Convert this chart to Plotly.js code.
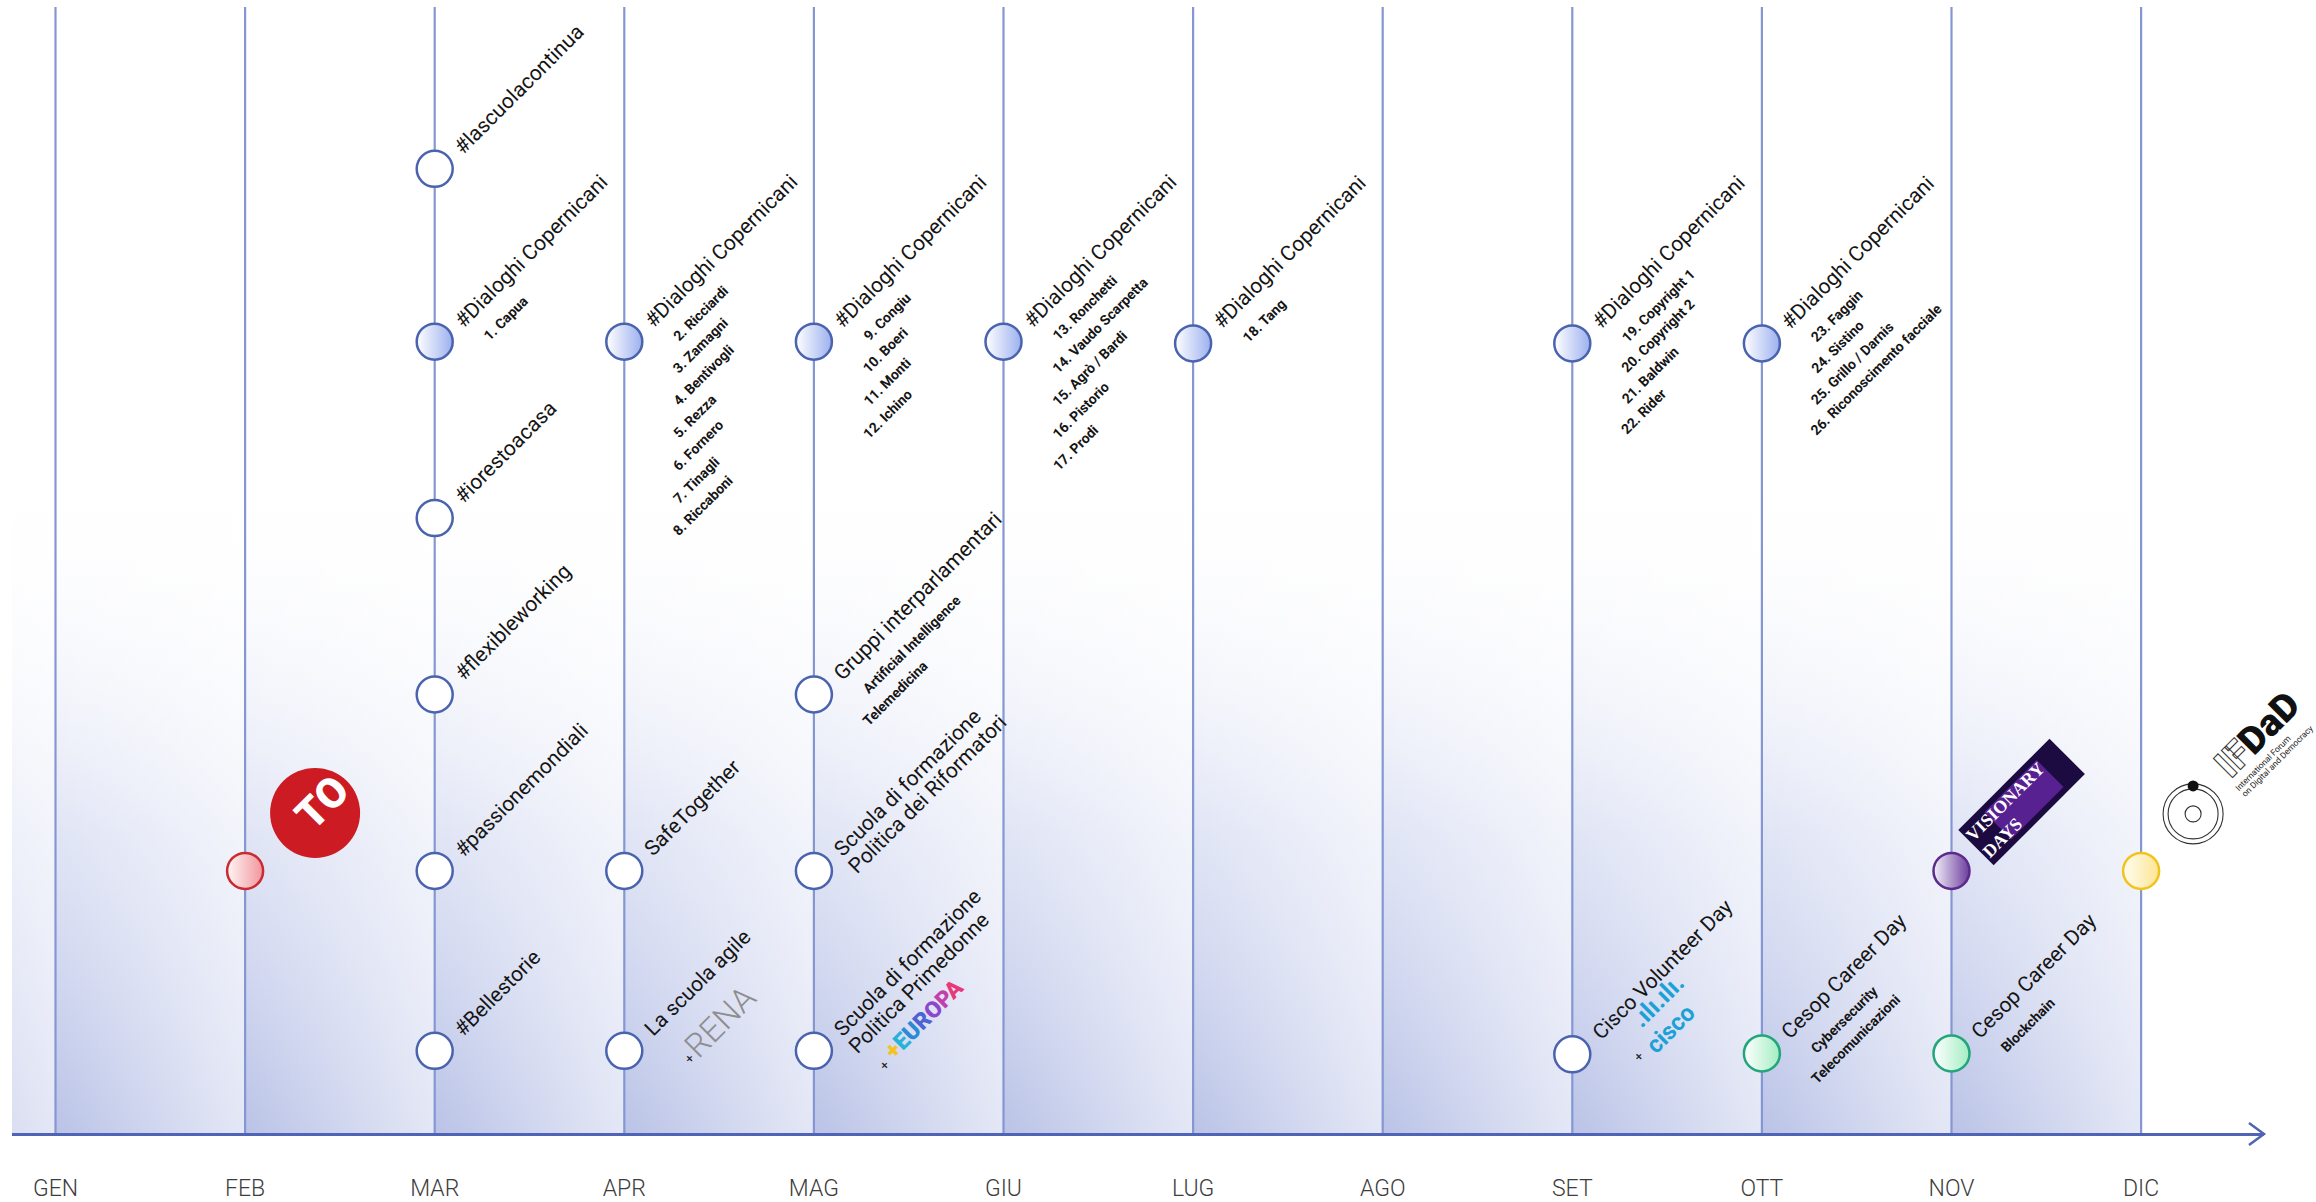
<!DOCTYPE html>
<html><head><meta charset="utf-8">
<script src="https://cdn.plot.ly/plotly-3.0.1.min.js"></script>
<style>html,body{margin:0;padding:0;background:#fff;} #chart{width:2316px;height:1202px;}</style>
</head><body><div id="chart"></div>
<script>
// ---------------- DATA ----------------
const months = ['GEN','FEB','MAR','APR','MAG','GIU','LUG','AGO','SET','OTT','NOV','DIC'];

// one entry per event (circle): month index, row level, title, sub items, kind, partner
const eventMonth = [1, 2, 2, 2, 2, 2, 2, 3, 3, 3, 4, 4, 4, 4, 5, 6, 8, 8, 9, 9, 10, 10, 11];
const eventLevel = [2, 5.98, 5, 4, 3, 2, 0.98, 5, 2, 0.98, 5, 3, 2, 0.98, 5, 4.99, 4.99, 0.96, 4.99, 0.965, 2, 0.965, 2];
const eventTitle = ['', '#lascuolacontinua', '#Dialoghi Copernicani', '#iorestoacasa', '#flexibleworking',
  '#passionemondiali', '#Bellestorie', '#Dialoghi Copernicani', 'SafeTogether', 'La scuola agile',
  '#Dialoghi Copernicani', 'Gruppi interparlamentari', 'Scuola di formazione<br>Politica dei Riformatori',
  'Scuola di formazione<br>Politica Primedonne', '#Dialoghi Copernicani', '#Dialoghi Copernicani',
  '#Dialoghi Copernicani', 'Cisco Volunteer Day', '#Dialoghi Copernicani', 'Cesop Career Day', '',
  'Cesop Career Day', ''];
const eventItems = [[], [], ['1. Capua'], [], [], [], [],
  ['2. Ricciardi', '3. Zamagni', '4. Bentivogli', '5. Rezza', '6. Fornero', '7. Tinagli', '8. Riccaboni'],
  [], [], ['9. Congiu', '10. Boeri', '11. Monti', '12. Ichino'],
  ['Artificial Intelligence', 'Telemedicina'], [], [],
  ['13. Ronchetti', '14. Vaudo Scarpetta', '15. Agrò / Bardi', '16. Pistorio', '17. Prodi'],
  ['18. Tang'], ['19. Copyright 1', '20. Copyright 2', '21. Baldwin', '22. Rider'], [],
  ['23. Faggin', '24. Sistino', '25. Grillo / Darnis', '26. Riconoscimento facciale'],
  ['Cybersecurity', 'Telecomunicazioni'], [], ['Blockchain'], []];
const eventKind = ['red', 'plain', 'dialoghi', 'plain', 'plain', 'plain', 'plain', 'dialoghi', 'plain', 'plain',
  'dialoghi', 'plain', 'plain', 'plain', 'dialoghi', 'dialoghi', 'dialoghi', 'plain', 'dialoghi', 'career',
  'purple', 'career', 'yellow'];
const eventPartner = ['3TO', '', '', '', '', '', '', '', '', 'RENA', '', '', '', '+EUROPA', '', '', '', 'cisco',
  '', '', 'VISIONARY DAYS', '', 'IFDaD'];

// ---------------- LAYOUT CONSTANTS ----------------
const xMin = -0.22943, xMax = 11.6482;
const yMin = 0.51417, yMax = 6.89739;
const lineBlue = '#8597d2';
const itemStepByMonth = {8: 30.5, 9: 31};   // tighter list spacing in SET / OTT

const traces = [];
// background gradient (vertical)
traces.push({
  type: 'scatter', mode: 'none', x: [xMin, 11, 11, xMin, xMin], y: [yMin, yMin, yMax, yMax, yMin],
  fill: 'toself', hoverinfo: 'skip',
  fillgradient: {type: 'vertical', start: yMin, stop: 4.3,
    colorscale: [[0, 'rgba(186,195,231,1)'], [0.45, 'rgba(214,220,242,0.75)'], [1, 'rgba(255,255,255,0)']]}
});
// per-column horizontal whitening (gives diagonal look)
for (let i = -1; i <= 10; i++) {
  const x0 = Math.max(i, xMin), x1 = i + 1;
  traces.push({
    type: 'scatter', mode: 'none', x: [x0, x1, x1, x0, x0], y: [yMin, yMin, yMax, yMax, yMin],
    fill: 'toself', hoverinfo: 'skip',
    fillgradient: {type: 'horizontal', start: i, stop: x1,
      colorscale: [[0, 'rgba(255,255,255,0)'], [1, 'rgba(255,255,255,0.6)']]}
  });
}
// month lines
const lx = [], ly = [];
months.forEach((m, i) => { lx.push(i, i, null); ly.push(yMin, yMax, null); });
traces.push({type: 'scatter', mode: 'lines', x: lx, y: ly, line: {color: lineBlue, width: 2.2}, hoverinfo: 'skip'});

// circles
const kindStyle = {
  plain:    {fill: '#ffffff', grad: '#ffffff', line: '#4a63ae'},
  dialoghi: {fill: '#ffffff', grad: '#9cb0ef', line: '#4a63ae'},
  career:   {fill: '#ffffff', grad: '#a3edc2', line: '#22a67b'},
  red:      {fill: '#fff6f6', grad: '#f1959b', line: '#cb2a31'},
  purple:   {fill: '#f4f0fa', grad: '#6c3d9c', line: '#5a2b8c'},
  yellow:   {fill: '#fffdf2', grad: '#fde593', line: '#f1c41d'}
};
Object.keys(kindStyle).forEach(k => {
  const idx = eventKind.map((v, i) => v === k ? i : -1).filter(i => i >= 0);
  const s = kindStyle[k];
  traces.push({
    type: 'scatter', mode: 'markers', hoverinfo: 'skip', cliponaxis: false,
    x: idx.map(i => eventMonth[i]), y: idx.map(i => eventLevel[i]),
    marker: {size: 36, color: s.fill, gradient: {type: 'horizontal', color: s.grad},
      line: {color: s.line, width: 2.5}}
  });
});

// ---------------- TEXT ----------------
const FAM = 'Roboto, "Noto Sans", Arial, sans-serif';
const titleFont = {family: FAM, size: 21, color: '#151515'};
const itemFont = {family: FAM, size: 14, color: '#151515', weight: 700};
const annotations = [];
// place rotated single-line text so its baseline start sits at (dx,dy) px from (x,y)
function txt(x, y, text, dx, dy, font, extra) {
  const f = font.size;
  return Object.assign({
    x: x, y: y, xref: 'x', yref: 'y', text: text, showarrow: false, textangle: -45,
    xanchor: 'left', yanchor: 'bottom', borderpad: 0, borderwidth: 0, align: 'left',
    xshift: dx - 0.656 * f + 8, yshift: -(dy + 0.1725 * f + 3.5), font: font
  }, extra || {});
}
eventTitle.forEach((t, i) => {
  const x = eventMonth[i], y = eventLevel[i];
  if (t) t.split('<br>').forEach((line, k) => {
    annotations.push(txt(x, y, line, 21 + 15 * k, -17 + 17 * k, titleFont));
  });
  const step = itemStepByMonth[x] || 32.5;
  eventItems[i].forEach((s, k) => {
    annotations.push(txt(x, y, s, 47, -4 + step * k, itemFont));
  });
});

// ---------------- PARTNER LOGOS ----------------
const shapes = [];
function pcircle(x, y, cx, cy, r, fill, line, lw) {
  return {type: 'circle', xref: 'x', yref: 'y', xsizemode: 'pixel', ysizemode: 'pixel', xanchor: x, yanchor: y,
    x0: cx - r, x1: cx + r, y0: -cy - r, y1: -cy + r, fillcolor: fill,
    line: {color: line || 'rgba(0,0,0,0)', width: lw || 0}, layer: 'above'};
}
function box(x, y, dx, dy, w, h, bg, text, font) {
  return {x: x, y: y, xref: 'x', yref: 'y', showarrow: false, text: text || ' ', textangle: -45,
    xanchor: 'center', yanchor: 'middle', xshift: dx, yshift: -dy,
    width: w, height: h, borderpad: 2, borderwidth: 0, align: 'left', valign: 'middle',
    bgcolor: bg, font: font || {size: 10, color: 'rgba(0,0,0,0)'}};
}
const plusFont = {family: FAM, size: 13, color: '#222'};
eventPartner.forEach((p, i) => {
  const x = eventMonth[i], y = eventLevel[i];
  if (p === '3TO') {
    shapes.push(pcircle(x, y, 70, -58, 45, '#cc1b22'));
    annotations.push({x: x, y: y, xref: 'x', yref: 'y', showarrow: false, text: 'TO', textangle: -45,
      xanchor: 'center', yanchor: 'middle', xshift: 77, yshift: 68,
      font: {family: FAM, size: 42, color: '#ffffff', weight: 900}});
  } else if (p === 'RENA') {
    annotations.push(txt(x, y, '+', 58, 10, plusFont));
    annotations.push(txt(x, y, 'RENA', 66, 5, {family: FAM, size: 33, color: '#8e8e8e', weight: 300}));
  } else if (p === '+EUROPA') {
    annotations.push(txt(x, y, '+', 63, 17, plusFont));
    const cols = ['#f4c31d', '#25b3d8', '#2b8ad6', '#4c63d2', '#8c47cc', '#c33fae', '#e8397a'];
    const html = p.split('').map((c, k) => '<span style="color:' + cols[k] + '">' + c + '</span>').join('');
    annotations.push(txt(x, y, html, 72, 6, {family: FAM, size: 23, color: '#25b3d8', weight: 900}));
  } else if (p === 'cisco') {
    annotations.push(txt(x, y, '+', 59, 4, plusFont));
    annotations.push(txt(x, y, '.ılı.ılı.', 62, -29, {family: FAM, size: 25, color: '#1ba0d7', weight: 700}));
    annotations.push(txt(x, y, p, 76, -3, {family: FAM, size: 24, color: '#1ba0d7', weight: 700}));
  } else if (p === 'VISIONARY DAYS') {
    annotations.push(box(x, y, 70, -69, 125, 46, '#1c0b40'));
    annotations.push(box(x, y, 72, -71, 70, 34, 'rgba(138,52,214,0.55)'));
    annotations.push(box(x, y, 70, -69, 125, 46, 'rgba(0,0,0,0)', 'VISIONARY<br>DAYS',
      {family: '"Liberation Serif", "DejaVu Serif", serif', size: 18, color: '#ffffff', weight: 700}));
  } else if (p === 'IFDaD') {
    shapes.push(pcircle(x, y, 52, -57, 30, 'rgba(0,0,0,0)', '#333', 1.1));
    shapes.push(pcircle(x, y, 52, -57, 25, 'rgba(0,0,0,0)', '#333', 1.1));
    shapes.push(pcircle(x, y, 52, -57, 8, 'rgba(0,0,0,0)', '#333', 1.1));
    shapes.push(pcircle(x, y, 52, -85, 5.5, '#111'));
    annotations.push(txt(x, y, '<span style="fill:#ffffff;stroke:#333;stroke-width:1px">IF</span>DaD', 82, -95,
      {family: FAM, size: 38, color: '#111', weight: 900}));
    annotations.push(txt(x, y, 'International Forum', 90, -83, {family: FAM, size: 8.5, color: '#222'}));
    annotations.push(txt(x, y, 'on Digital and Democracy', 96, -77, {family: FAM, size: 8.5, color: '#222'}));
  }
});

// axis arrow head
shapes.push({type: 'path', xref: 'paper', yref: 'paper', xsizemode: 'pixel', ysizemode: 'pixel', xanchor: 1, yanchor: 0,
  path: 'M -15,10 L 0,-1 L -15,-12', line: {color: '#4f64b6', width: 2.5}, layer: 'above'});

const layout = {
  width: 2316, height: 1202,
  margin: {l: 12, r: 52, t: 7, b: 69, pad: 0},
  paper_bgcolor: '#ffffff', plot_bgcolor: '#ffffff',
  showlegend: false, hovermode: false,
  xaxis: {range: [xMin, xMax], tickvals: months.map((m, i) => i), ticktext: months,
    showgrid: false, zeroline: false, showline: true, linecolor: '#4f64b6', linewidth: 2.5,
    ticks: 'outside', ticklen: 33, tickcolor: 'rgba(0,0,0,0)',
    tickfont: {family: FAM, size: 23, color: '#3d3d3d', weight: 300}, fixedrange: true},
  yaxis: {range: [yMin, yMax], visible: false, fixedrange: true},
  annotations: annotations, shapes: shapes
};
Plotly.newPlot('chart', traces, layout, {staticPlot: true, displayModeBar: false});
</script></body></html>
